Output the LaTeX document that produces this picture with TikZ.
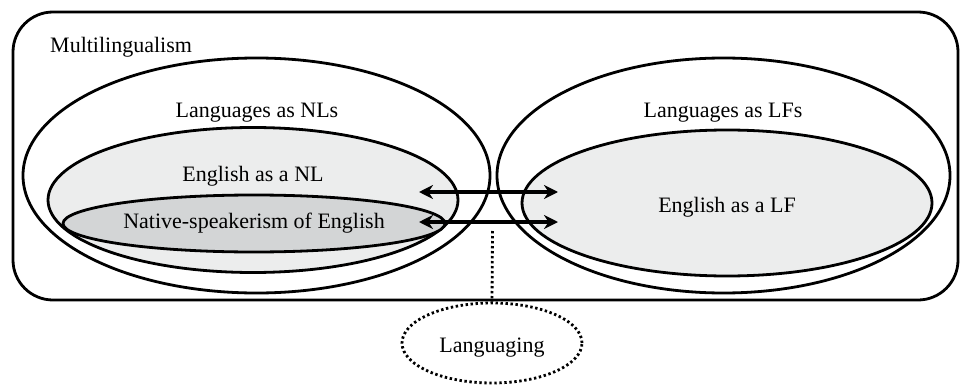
\documentclass[tikz,border=0pt]{standalone}
\usepackage{fontspec}
\setmainfont{Liberation Serif}
\usetikzlibrary{shapes.geometric,arrows.meta}
\definecolor{lightfill}{HTML}{ECEDED}
\definecolor{darkfill}{HTML}{D3D5D6}
\tikzset{
  ring/.style={ellipse, draw=black, line width=2.8pt, inner sep=0pt, outer sep=0pt},
  lbl/.style={font=\fontsize{22}{26}\selectfont, inner sep=0pt, anchor=center},
  biarrow/.style={{Stealth[length=14pt,width=14pt]}-{Stealth[length=14pt,width=14pt]}, line width=3.4pt},
  dotline/.style={line width=2.8pt, dash pattern=on 2.4pt off 2.6pt}
}
\begin{document}
\begin{tikzpicture}[x=1pt,y=-1pt]
\useasboundingbox (0,0) rectangle (960,385);
% outer frame
\node[draw=black, line width=2.8pt, rounded corners=40pt, minimum width=945pt, minimum height=288pt, inner sep=0pt] (frame) at (485.5,156) {};
\node[lbl, anchor=west] (multi) at (50,47) {Multilingualism};
% left side
\node[ring, minimum width=467pt, minimum height=235pt] (nls) at (256.5,175.5) {};
\node[ring, fill=lightfill, minimum width=410pt, minimum height=145pt] (engnl) at (253,200) {};
\node[ring, fill=darkfill, minimum width=382pt, minimum height=57pt] (native) at (254,223.5) {};
\node[lbl] (nlstext) at (257,113) {Languages as NLs};
\node[lbl] (engnltext) at (253,176) {English as a NL};
\node[lbl] (nativetext) at (254,223) {Native-speakerism of English};
% right side
\node[ring, minimum width=453pt, minimum height=235pt] (lfs) at (723.5,175.5) {};
\node[ring, fill=lightfill, minimum width=410pt, minimum height=146pt] (englf) at (727,203) {};
\node[lbl] (lfstext) at (723,113) {Languages as LFs};
\node[lbl] (englftext) at (727,207) {English as a LF};
% arrows
\coordinate (a1) at (419,192);
\coordinate (b1) at (558,192);
\coordinate (a2) at (419,222);
\coordinate (b2) at (558,222);
\draw[biarrow] (a1) -- (b1);
\draw[biarrow] (a2) -- (b2);
% languaging
\node[ellipse, draw=black, dotline, minimum width=180pt, minimum height=80pt, inner sep=0pt] (lang) at (492,343) {};
\node[lbl] (langtext) at (492,348) {Languaging};
\coordinate (d0) at (492.5,231);
\draw[dotline] (d0) -- (lang.north);
\end{tikzpicture}
\end{document}
